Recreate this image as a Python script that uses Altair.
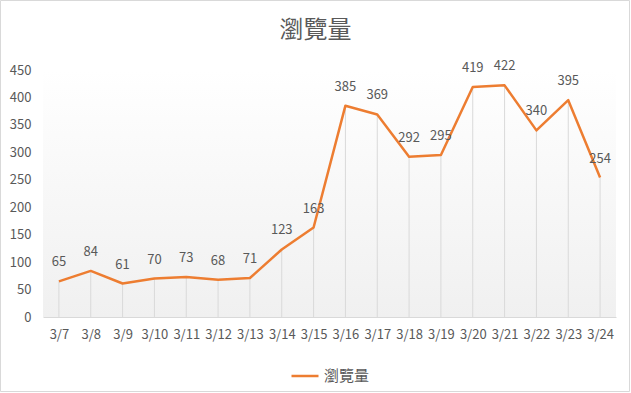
import altair as alt
import pandas as pd

dates = ["3/7", "3/8", "3/9", "3/10", "3/11", "3/12", "3/13", "3/14", "3/15",
         "3/16", "3/17", "3/18", "3/19", "3/20", "3/21", "3/22", "3/23", "3/24"]
views = [65, 84, 61, 70, 73, 68, 71, 123, 163, 385, 369, 292, 295, 419, 422, 340, 395, 254]
series_name = "瀏覽量"
y_ticks = [0, 50, 100, 150, 200, 250, 300, 350, 400, 450]

df = pd.DataFrame({"date": dates, "views": views, "series": [series_name] * len(dates)})

FONT = "Noto Sans CJK TC"
GREY = "#595959"
ORANGE = "#ED7D31"

x_enc = alt.X("date:N", sort=dates,
              scale=alt.Scale(type="point", padding=0.5),
              axis=alt.Axis(title=None, labelAngle=0, ticks=False, domain=True,
                            domainColor="#d9d9d9", domainWidth=1, labelPadding=11,
                            labelFontSize=13, labelColor=GREY, labelFont=FONT))
y_enc = alt.Y("views:Q", scale=alt.Scale(domain=[0, 450], nice=False),
              axis=alt.Axis(title=None, values=y_ticks, grid=False, domain=False,
                            ticks=False, labelPadding=12, labelFontSize=13,
                            labelColor=GREY, labelFont=FONT))

bg = alt.Chart(alt.Data(values=[{"a": 1}])).mark_rect(
    fill=alt.Gradient(gradient="linear", x1=0, y1=0, x2=0, y2=1,
                      stops=[alt.GradientStop(color="#ffffff", offset=0),
                             alt.GradientStop(color="#f0f0f0", offset=1)])
).encode(x=alt.value(0), x2=alt.value("width"), y=alt.value(0), y2=alt.value("height"))

rules = alt.Chart(df).mark_rule(color="#d9d9d9", strokeWidth=1).encode(
    x=x_enc, y=y_enc, y2=alt.datum(0))

line = alt.Chart(df).mark_line(strokeWidth=2.5, strokeJoin="round").encode(
    x=x_enc, y=y_enc,
    color=alt.Color("series:N", scale=alt.Scale(range=[ORANGE]),
                    legend=alt.Legend(title=None, orient="none", legendX=247, legendY=291,
                                      symbolType="stroke", symbolSize=729,
                                      symbolStrokeWidth=2.5, labelFontSize=15,
                                      labelColor=GREY, labelFont=FONT, labelOffset=4)))

labels = alt.Chart(df).mark_text(dy=-19, fontSize=13, color=GREY, font=FONT,
                                 baseline="middle").encode(
    x=x_enc, y=y_enc, text=alt.Text("views:Q"))

title = alt.Chart(alt.Data(values=[{"t": series_name}])).mark_text(
    fontSize=24, color=GREY, font=FONT, baseline="middle", align="center"
).encode(x=alt.value(272.5), y=alt.value(-39), text="t:N")

border = alt.Chart(alt.Data(values=[{"a": 1}])).mark_rect(
    fill="transparent", stroke="#d9d9d9", strokeWidth=1
).encode(x=alt.value(-42.5), x2=alt.value(586.5), y=alt.value(-69.5), y2=alt.value(321.5))

chart = alt.layer(bg, rules, line, labels, title, border).properties(
    width=573, height=247,
    autosize=alt.AutoSizeParams(type="none"),
    padding={"left": 43, "top": 70, "right": 15, "bottom": 76},
    background="white",
).configure_view(stroke=None)

chart.save("out.html", embed_options={"renderer": "svg", "actions": False})
